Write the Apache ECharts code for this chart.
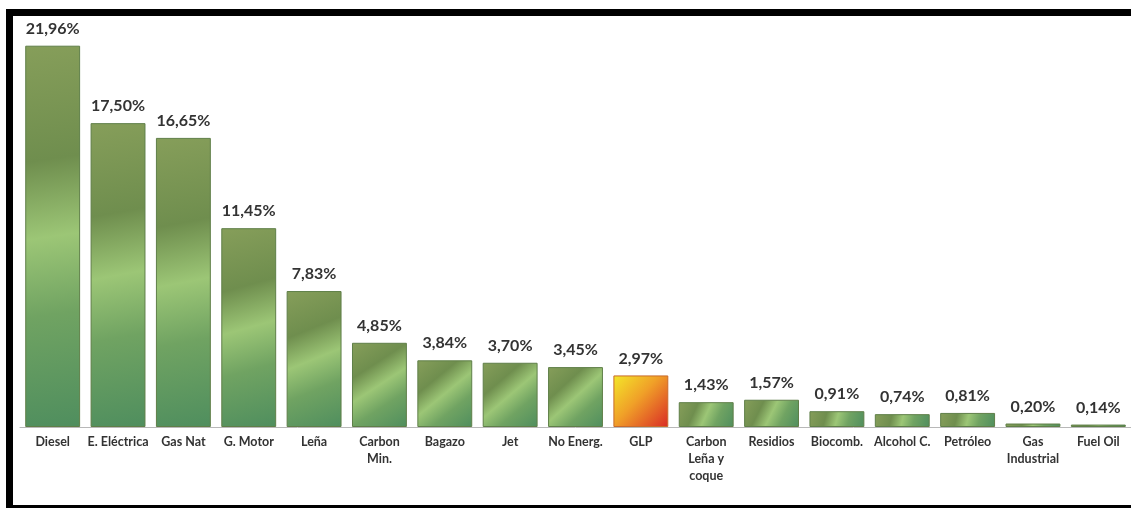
<!DOCTYPE html>
<html>
<head>
<meta charset="utf-8">
<script src="https://cdn.jsdelivr.net/npm/echarts@6/dist/echarts.min.js"></script>
<style>
html,body{margin:0;padding:0;background:#fff;}
#chart{width:1131px;height:508px;}
</style>
</head>
<body>
<div id="chart"></div>
<script>
const categories = ["Diesel","E. Eléctrica","Gas Nat","G. Motor","Leña","Carbon\nMin.","Bagazo","Jet","No Energ.","GLP","Carbon\nLeña y\ncoque","Residios","Biocomb.","Alcohol C.","Petróleo","Gas\nIndustrial","Fuel Oil"];
const values = [21.96,17.50,16.65,11.45,7.83,4.85,3.84,3.70,3.45,2.97,1.43,1.57,0.91,0.74,0.81,0.20,0.14];
const highlight = "GLP";

const greenFill = new echarts.graphic.LinearGradient(0,0,1,1,[
  {offset:0,color:'#869e5a'},
  {offset:0.3,color:'#6f8e4e'},
  {offset:0.5,color:'#9cc676'},
  {offset:0.7,color:'#70a362'},
  {offset:1,color:'#4f8e5e'}
]);
const redFill = new echarts.graphic.LinearGradient(0,0,1,1,[
  {offset:0,color:'#f3e82a'},
  {offset:0.45,color:'#f0a028'},
  {offset:1,color:'#d92a26'}
]);

const chart = echarts.init(document.getElementById('chart'));
chart.setOption({
  backgroundColor:'#ffffff',
  animation:false,
  grid:{left:20,right:0,top:45,bottom:81,containLabel:false},
  xAxis:{
    type:'category',
    data:categories,
    axisLine:{show:true,lineStyle:{color:'#b8b8b8',width:1}},
    axisTick:{show:false},
    axisLabel:{
      interval:0,color:'#333',fontFamily:'Lato, "Open Sans", sans-serif',
      fontSize:12.5,fontWeight:'bold',lineHeight:17,margin:6
    }
  },
  yAxis:{type:'value',min:0,max:22,show:false,splitLine:{show:false}},
  series:[{
    type:'bar',
    barCategoryGap:'16%',
    data:values.map((v,i)=>({
      value:v,
      itemStyle:{
        color: categories[i]===highlight ? redFill : greenFill,
        borderColor: categories[i]===highlight ? '#c86a2a' : '#5f7f48',
        borderWidth:1
      }
    })),
    label:{
      show:true,position:'top',distance:9,
      color:'#333',fontFamily:'Lato, "Open Sans", sans-serif',fontSize:16,fontWeight:'bold',
      formatter:p=>p.value.toFixed(2).replace('.',',')+'%'
    }
  }],
  graphic:[
    {type:'rect',shape:{x:6,y:9,width:1125,height:7},style:{fill:'#000'},z:100},
    {type:'rect',shape:{x:6,y:9,width:7,height:499},style:{fill:'#000'},z:100},
    {type:'rect',shape:{x:6,y:505,width:1125,height:3},style:{fill:'#000'},z:100}
  ]
});
</script>
</body>
</html>
